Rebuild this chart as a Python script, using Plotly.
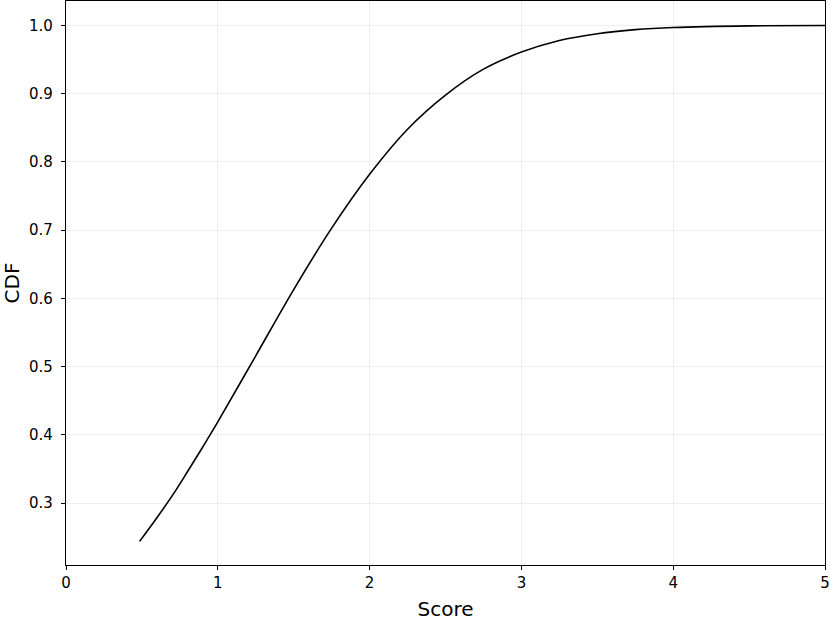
import plotly.graph_objects as go

# values
score = [0.485, 0.6, 0.7, 0.8, 0.9, 1.0, 1.25, 1.5, 1.75, 2.0, 2.25, 2.5, 2.75,
         3.0, 3.25, 3.5, 3.75, 4.0, 4.5, 5.0]
cdf = [0.244, 0.279, 0.311, 0.346, 0.382, 0.419, 0.516, 0.613, 0.703, 0.782,
       0.848, 0.898, 0.936, 0.961, 0.978, 0.988, 0.9939, 0.9970, 0.9994, 0.9999]

x_ticks = [0, 1, 2, 3, 4, 5]
y_ticks = [0.3, 0.4, 0.5, 0.6, 0.7, 0.8, 0.9, 1.0]

fig = go.Figure()
fig.add_trace(go.Scatter(x=score, y=cdf, mode="lines",
                         line=dict(color="black", width=1.6, shape="spline"),
                         showlegend=False))

axis_style = dict(showline=True, linecolor="black", linewidth=1.3, mirror=True,
                  ticks="outside", ticklen=4, tickwidth=1.2, tickcolor="black",
                  showgrid=True, gridcolor="#efefef", gridwidth=1, zeroline=False,
                  automargin=False, tickfont=dict(size=15, color="black"))

fig.update_xaxes(range=[0, 5], tickvals=x_ticks,
                 title=dict(text="Score", font=dict(size=20, color="black"), standoff=10),
                 **axis_style)
fig.update_yaxes(range=[0.2094, 1.0359], tickvals=y_ticks, tickformat=".1f",
                 ticklabelstandoff=5,
                 title=dict(text="CDF", font=dict(size=20, color="black"), standoff=8),
                 **axis_style)

fig.update_layout(width=831, height=622, plot_bgcolor="white", paper_bgcolor="white",
                  font=dict(family="DejaVu Sans", color="black"),
                  margin=dict(l=66, r=6, t=1, b=57))

# page body has a default 8px margin, drop it so the figure sits at the corner
fig.write_html("out.html", config={"displayModeBar": False},
               post_script="document.body.style.margin='0';")
